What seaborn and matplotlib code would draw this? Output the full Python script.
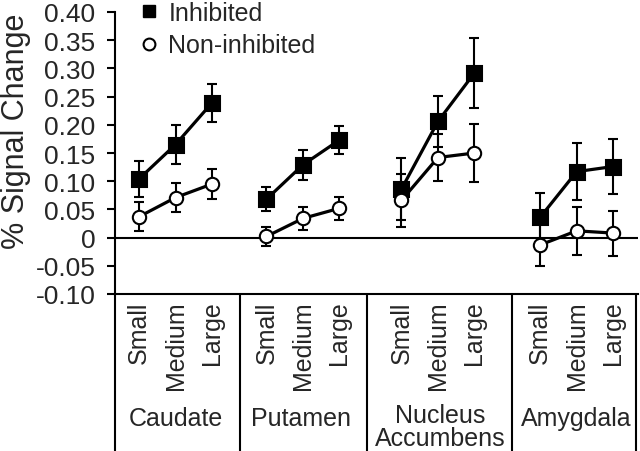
import numpy as np
import pandas as pd
import matplotlib
matplotlib.use("Agg")
import matplotlib.pyplot as plt
from matplotlib.lines import Line2D
import matplotlib.transforms as mtransforms
import seaborn as sns

# ---------------- data ----------------
regions = ["Caudate", "Putamen", "Nucleus Accumbens", "Amygdala"]
sizes = ["Small", "Medium", "Large"]
conditions = ["Inhibited", "Non-inhibited"]

inhibited_mean = [0.104, 0.165, 0.239,
                  0.068, 0.129, 0.173,
                  0.086, 0.206, 0.292,
                  0.036, 0.117, 0.126]
inhibited_err = [0.032, 0.034, 0.034,
                 0.021, 0.026, 0.024,
                 0.055, 0.045, 0.062,
                 0.043, 0.051, 0.049]
noninhibited_mean = [0.037, 0.071, 0.095,
                     0.002, 0.034, 0.052,
                     0.066, 0.142, 0.150,
                     -0.013, 0.012, 0.008]
noninhibited_err = [0.026, 0.026, 0.027,
                    0.017, 0.021, 0.020,
                    0.047, 0.042, 0.051,
                    0.038, 0.042, 0.040]

yticks = [0.40, 0.35, 0.30, 0.25, 0.20, 0.15, 0.10, 0.05, 0.0, -0.05, -0.10]
ytick_labels = ["0.40", "0.35", "0.30", "0.25", "0.20", "0.15", "0.10",
                "0.05", "0", "-0.05", "-0.10"]

# ---------------- layout (positions, not data) ----------------
group_centers = [1.0, 4.49, 8.19, 11.99]
group_label_x = [1.0, 4.44, 8.25, 11.98]
group_label_y = [-0.465, -0.465, -0.455, -0.465]
separators = [-0.658, 2.77, 6.25, 10.21, 13.62]
xlim = (-0.658, 13.67)

rows = []
for gi, reg in enumerate(regions):
    for si, sz in enumerate(sizes):
        k = gi * 3 + si
        x = group_centers[gi] + (si - 1)
        rows.append(dict(region=reg, size=sz, x=x, condition="Inhibited",
                         value=inhibited_mean[k], err=inhibited_err[k]))
        rows.append(dict(region=reg, size=sz, x=x, condition="Non-inhibited",
                         value=noninhibited_mean[k], err=noninhibited_err[k]))
df = pd.DataFrame(rows)

sns.set_style("ticks")
plt.rcParams["font.family"] = ["Liberation Sans", "DejaVu Sans"]

fig = plt.figure(figsize=(6.4, 4.52), dpi=100)
ax = fig.add_axes([115 / 640, 1 - 295 / 452, (638 - 115) / 640, 282 / 452])

styles = {
    "Inhibited": dict(marker="s", markerfacecolor="black", markersize=10.8, zo=3),
    "Non-inhibited": dict(marker="o", markerfacecolor="white", markersize=9.6, zo=5),
}

for cond in conditions:
    sub = df[df.condition == cond]
    st = styles[cond]
    ax.errorbar(sub.x, sub.value, yerr=sub.err, fmt="none", ecolor="black",
                elinewidth=1.5, capsize=3.7, capthick=1.5, zorder=st["zo"] - 1)
    sns.lineplot(data=sub, x="x", y="value", units="region", estimator=None,
                 color="black", linewidth=2.3, marker=st["marker"],
                 markerfacecolor=st["markerfacecolor"], markeredgecolor="black",
                 markeredgewidth=1.5, markersize=st["markersize"], ax=ax,
                 legend=False, zorder=st["zo"])

ax.axhline(0, color="black", linewidth=1.5, zorder=1)

ax.set_xlim(*xlim)
ax.set_ylim(-0.10, 0.40)
ax.set_yticks(yticks)
ax.set_yticklabels(ytick_labels)
ax.tick_params(axis="y", labelsize=19, length=6, width=1.5, pad=8, color="black")
ax.set_xticks([])
ax.set_xlabel("")
ax.set_ylabel("")
for side in ["top", "right"]:
    ax.spines[side].set_visible(False)
for side in ["left", "bottom"]:
    ax.spines[side].set_linewidth(1.5)
    ax.spines[side].set_color("black")

trans = mtransforms.blended_transform_factory(ax.transData, ax.transAxes)
for sx in separators:
    ax.add_line(Line2D([sx, sx], [0, -0.56], transform=trans, color="black",
                       linewidth=1.5, clip_on=False))

for gi, reg in enumerate(regions):
    for si, sz in enumerate(sizes):
        ax.text(group_centers[gi] + (si - 1), -0.022, sz, transform=trans,
                rotation=90, ha="center", va="top", fontsize=18)
    words = reg.split(" ")
    for li, w in enumerate(words):
        ax.text(group_label_x[gi], group_label_y[gi] - li * 0.082, w,
                transform=trans, ha="center", va="baseline", fontsize=18)

fig.text(0.025, 0.71, "% Signal Change", rotation=90, ha="center",
         va="center", fontsize=22)

handles = [
    Line2D([], [], linestyle="none", marker="s", markersize=9,
           markerfacecolor="black", markeredgecolor="black"),
    Line2D([], [], linestyle="none", marker="o", markersize=8.5,
           markerfacecolor="white", markeredgecolor="black", markeredgewidth=1.5),
]
fig.legend(handles, conditions, loc="upper left",
           bbox_to_anchor=(136 / 640, 1.0 - 2 / 452), frameon=False,
           fontsize=18, handlelength=1.0, handletextpad=0.3,
           labelspacing=0.33, borderpad=0.0, borderaxespad=0.0)

fig.savefig("out.png", dpi=100)
